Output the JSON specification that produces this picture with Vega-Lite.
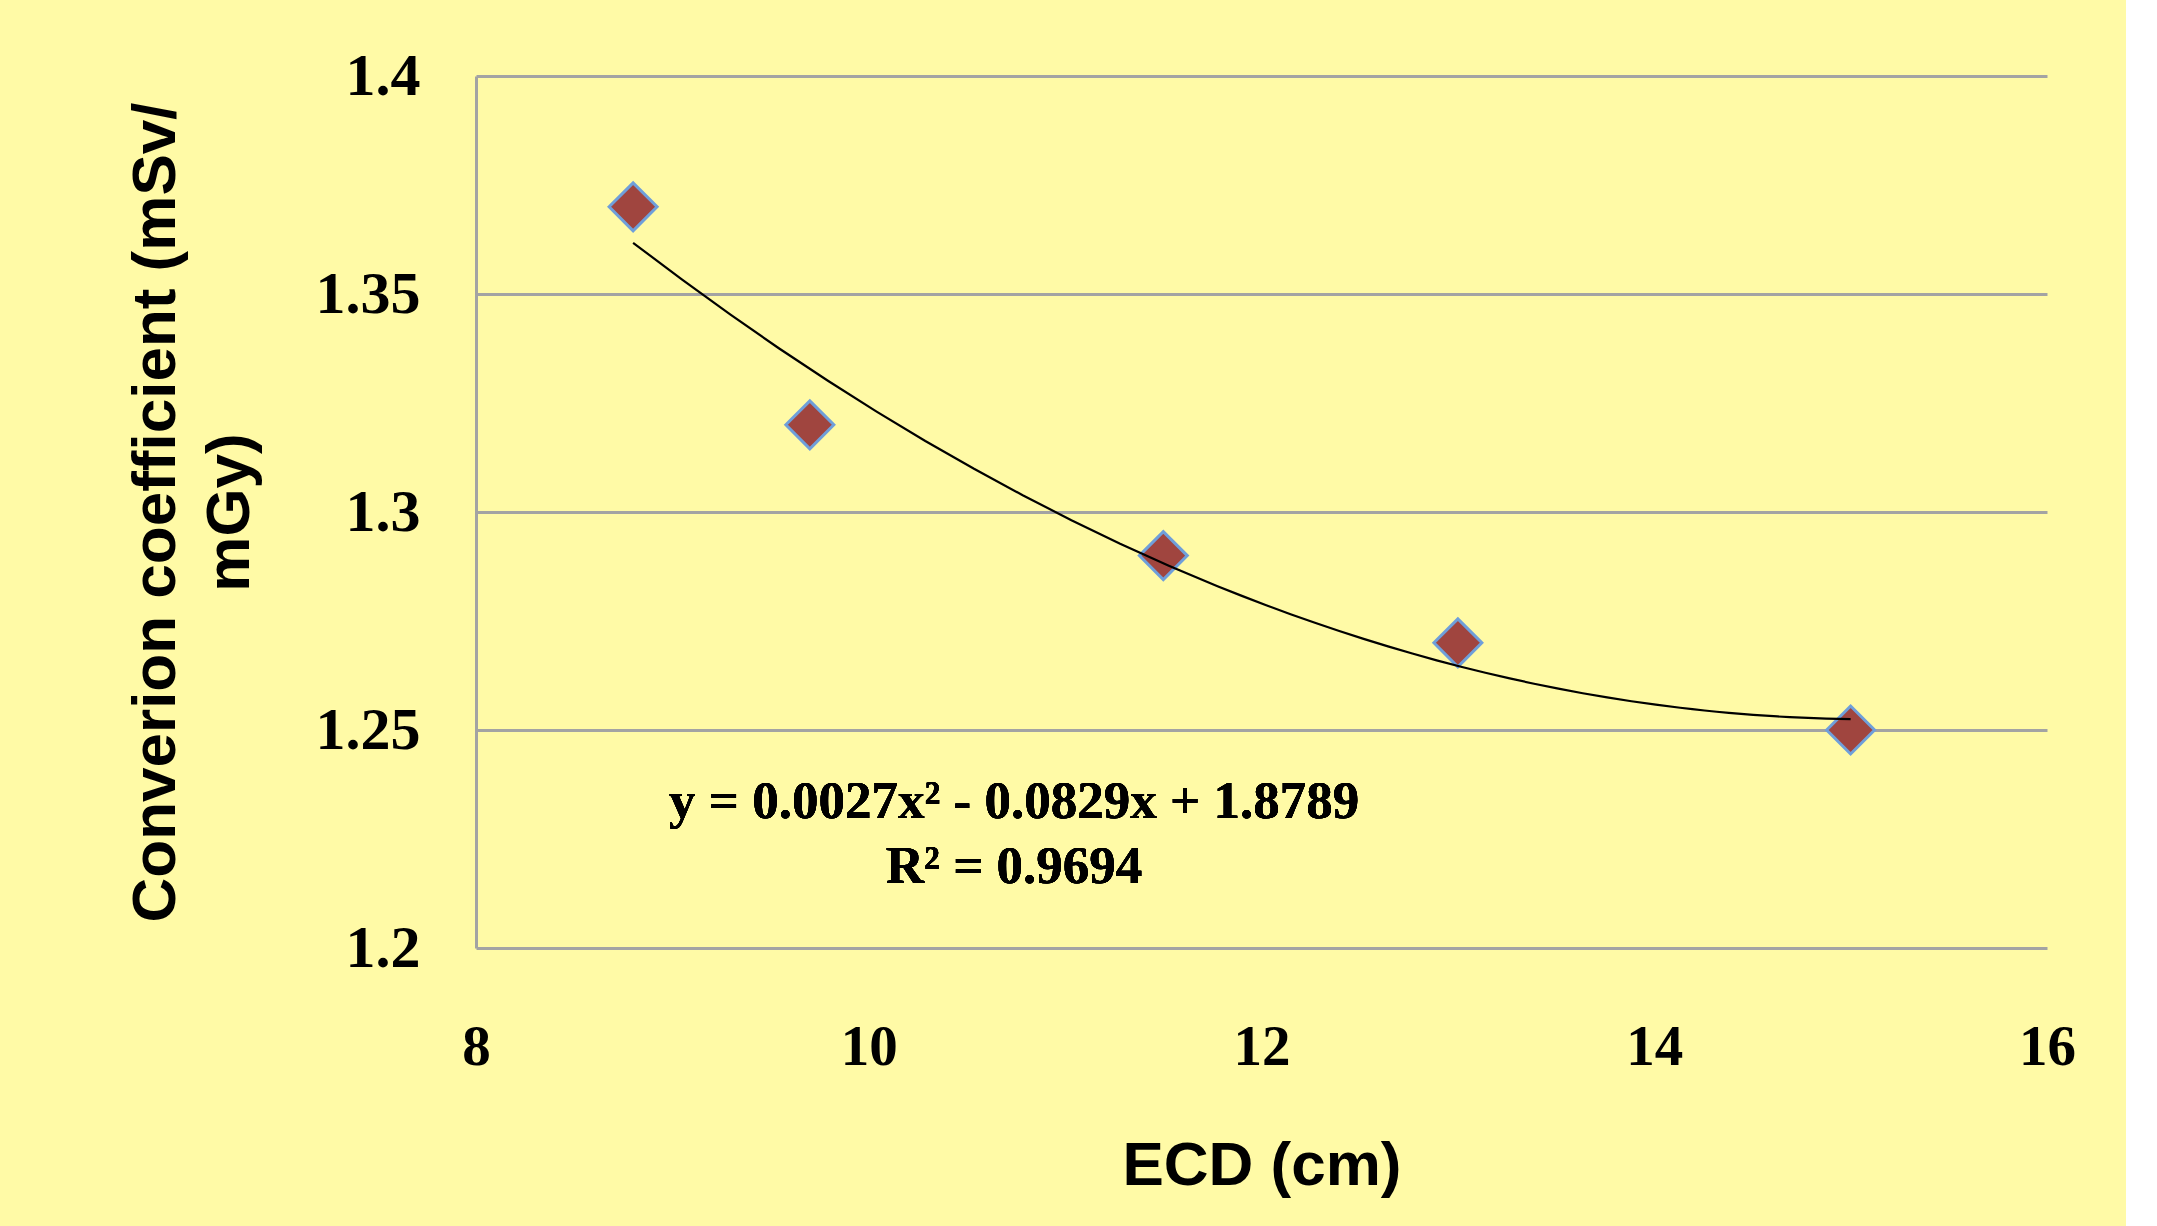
{
  "$schema": "https://vega.github.io/schema/vega-lite/v6.json",
  "autosize": {"type": "none"},
  "width": 1571,
  "height": 872,
  "padding": {"left": 476, "top": 76, "right": 79, "bottom": 278},
  "background": "#FFFAA6",
  "config": {"view": {"stroke": null}},
  "data": {
    "values": [
      {"ecd": 8.8, "cc": 1.37},
      {"ecd": 9.7, "cc": 1.32},
      {"ecd": 11.5, "cc": 1.29},
      {"ecd": 13.0, "cc": 1.27},
      {"ecd": 15.0, "cc": 1.25}
    ]
  },
  "layer": [
    {
      "mark": {"type": "point", "shape": "diamond", "filled": true, "size": 2300, "fill": "#A0453F", "stroke": "#6F9FDA", "strokeWidth": 3, "opacity": 1},
      "encoding": {
        "x": {
          "field": "ecd", "type": "quantitative",
          "scale": {"domain": [8, 16], "nice": false, "zero": false},
          "axis": {
            "title": "ECD (cm)", "values": [8, 10, 12, 14, 16], "format": "d",
            "grid": false, "ticks": false, "tickSize": 0, "domain": false,
            "labelFont": "Liberation Serif", "labelFontWeight": "bold", "labelFontSize": 57, "labelColor": "black",
            "labelPadding": 71, "labelFlush": false,
            "titleFont": "Liberation Sans", "titleFontWeight": "bold", "titleFontSize": 62, "titleColor": "black",
            "titlePadding": 60
          }
        },
        "y": {
          "field": "cc", "type": "quantitative",
          "scale": {"domain": [1.2, 1.4], "nice": false, "zero": false},
          "axis": {
            "title": ["Converion coefficient (mSv/", "mGy)"], "values": [1.2, 1.25, 1.3, 1.35, 1.4], "format": "~g",
            "grid": true, "gridColor": "#A3A3A3", "gridWidth": 3,
            "domain": true, "domainColor": "#A3A3A3", "domainWidth": 3,
            "ticks": false, "tickSize": 0,
            "labelFont": "Liberation Serif", "labelFontWeight": "bold", "labelFontSize": 60, "labelColor": "black",
            "labelPadding": 56, "labelFlush": false,
            "titleFont": "Liberation Sans", "titleFontWeight": "bold", "titleFontSize": 62, "titleColor": "black",
            "titleLineHeight": 74, "titlePadding": 54
          }
        }
      }
    },
    {
      "transform": [{"regression": "cc", "on": "ecd", "method": "poly", "order": 2}],
      "mark": {"type": "line", "color": "black", "strokeWidth": 2.2},
      "encoding": {
        "x": {"field": "ecd", "type": "quantitative"},
        "y": {"field": "cc", "type": "quantitative"}
      }
    },
    {
      "mark": {"type": "text", "font": "Liberation Serif", "fontWeight": "bold", "fontSize": 53, "color": "black", "align": "center", "baseline": "middle", "lineHeight": 65},
      "encoding": {
        "x": {"datum": 10.74},
        "y": {"datum": 1.2336},
        "text": {"value": ["y = 0.0027x² - 0.0829x + 1.8789", "R² = 0.9694"]}
      }
    }
  ]
}
